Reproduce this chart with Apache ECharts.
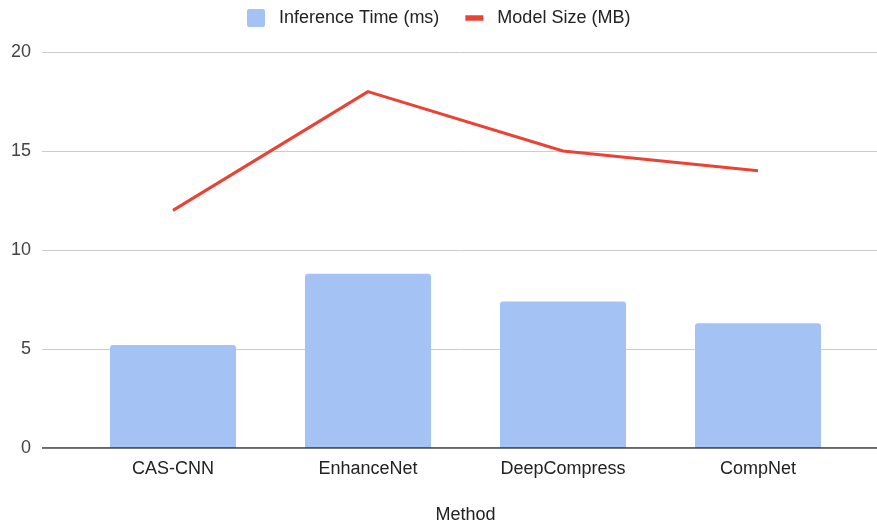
<!DOCTYPE html>
<html>
<head>
<meta charset="utf-8">
<script src="https://cdn.jsdelivr.net/npm/echarts@6/dist/echarts.min.js"></script>
<style>
  html, body { margin: 0; padding: 0; background: #fff; }
  #chart { width: 877px; height: 524px; }
</style>
</head>
<body>
<div id="chart"></div>
<script>
// Methods compared and their measurements
const methods = ['CAS-CNN', 'EnhanceNet', 'DeepCompress', 'CompNet'];
const inferenceTime = [5.2, 8.8, 7.4, 6.3];   // ms
const modelSize = [12, 18, 15, 14];           // MB
const yTicks = [0, 5, 10, 15, 20];

const FONT = '"Liberation Sans", Arial, sans-serif';
const yMin = yTicks[0];
const yMax = yTicks[yTicks.length - 1];
const yStep = yTicks[1] - yTicks[0];

const chart = echarts.init(document.getElementById('chart'), null, { renderer: 'canvas' });

chart.setOption({
  backgroundColor: '#ffffff',
  animation: false,
  textStyle: { fontFamily: FONT },
  legend: {
    top: 4,
    left: 242,
    itemWidth: 18,
    itemHeight: 18,
    itemGap: 26,
    textStyle: { fontSize: 18, color: '#222', fontFamily: FONT, padding: [0, 0, 0, 9] },
    data: [
      { name: 'Inference Time (ms)', icon: 'path://M2,0 L16,0 Q18,0 18,2 L18,16 Q18,18 16,18 L2,18 Q0,18 0,16 L0,2 Q0,0 2,0 Z' },
      { name: 'Model Size (MB)', icon: 'path://M0,0 L18,0 L18,5.5 L0,5.5 Z' }
    ]
  },
  grid: [
    // full-width grid carrying the value gridlines and tick labels
    { left: 42, right: 0, top: 52, bottom: 76, outerBoundsMode: 'none', containLabel: false },
    // inner grid where the categories are laid out
    { left: 75.5, right: 21.5, top: 52, bottom: 76, outerBoundsMode: 'none', containLabel: false }
  ],
  xAxis: [
    { type: 'value', gridIndex: 0, show: false, min: 0, max: 1 },
    {
      type: 'category', gridIndex: 1, data: methods,
      axisLine: { show: false },
      axisTick: { show: false },
      axisLabel: { fontSize: 18, color: '#222', margin: 12, fontFamily: FONT },
      name: 'Method', nameLocation: 'middle', nameGap: 58,
      nameTextStyle: { fontSize: 18, color: '#222', fontFamily: FONT }
    }
  ],
  yAxis: [
    {
      type: 'value', gridIndex: 0, min: yMin, max: yMax, interval: yStep,
      axisLine: { show: false },
      axisTick: { show: false },
      axisLabel: { fontSize: 18, color: '#444', margin: 11, fontFamily: FONT },
      splitLine: { lineStyle: { color: '#cccccc', width: 1 } }
    },
    {
      type: 'value', gridIndex: 1, min: yMin, max: yMax, interval: yStep,
      axisLine: { show: false }, axisTick: { show: false },
      axisLabel: { show: false }, splitLine: { show: false }
    }
  ],
  series: [
    {
      // baseline at zero across the full width
      type: 'line', xAxisIndex: 0, yAxisIndex: 0,
      data: [[0, 0], [1, 0]],
      symbol: 'none', silent: true, legendHoverLink: false,
      lineStyle: { color: '#333333', width: 1.5 },
      z: 5, tooltip: { show: false }
    },
    {
      name: 'Inference Time (ms)',
      type: 'bar', xAxisIndex: 1, yAxisIndex: 1,
      data: inferenceTime,
      barWidth: '64.6%',
      itemStyle: { color: '#a4c2f4', borderRadius: [3, 3, 0, 0] },
      z: 2
    },
    {
      name: 'Model Size (MB)',
      type: 'line', xAxisIndex: 1, yAxisIndex: 1,
      data: modelSize,
      symbol: 'none',
      lineStyle: { color: '#ea4335', width: 3 },
      itemStyle: { color: '#ea4335' },
      z: 6
    }
  ]
});
</script>
</body>
</html>
